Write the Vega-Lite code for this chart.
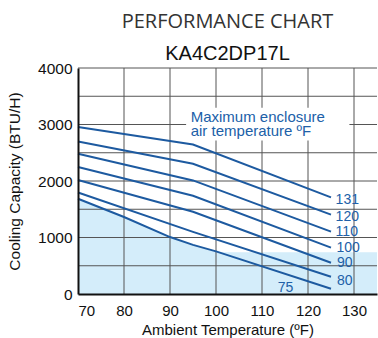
{
  "$schema": "https://vega.github.io/schema/vega-lite/v6.json",
  "width": 299,
  "height": 226,
  "autosize": {"type": "none"},
  "padding": {"left": 78, "top": 68, "right": 1, "bottom": 44},
  "background": "white",
  "config": {"view": {"stroke": null}, "font": "Liberation Sans"},
  "title": {
    "text": "PERFORMANCE CHART",
    "subtitle": "KA4C2DP17L",
    "font": "Open Sans",
    "fontSize": 20,
    "fontWeight": "normal",
    "color": "#333333",
    "subtitleFont": "Liberation Sans",
    "subtitleFontSize": 20,
    "subtitleColor": "#111111",
    "subtitlePadding": 12,
    "anchor": "middle",
    "frame": "group",
    "offset": -3
  },
  "datasets": {
    "curves": [
      {"temp": "131", "x": 70, "y": 2954}, {"temp": "131", "x": 95, "y": 2645}, {"temp": "131", "x": 125, "y": 1709},
      {"temp": "120", "x": 70, "y": 2700}, {"temp": "120", "x": 95, "y": 2305}, {"temp": "120", "x": 125, "y": 1404},
      {"temp": "110", "x": 70, "y": 2482}, {"temp": "110", "x": 95, "y": 2010}, {"temp": "110", "x": 125, "y": 1103},
      {"temp": "100", "x": 70, "y": 2247}, {"temp": "100", "x": 95, "y": 1740}, {"temp": "100", "x": 125, "y": 820},
      {"temp": "90", "x": 70, "y": 2017}, {"temp": "90", "x": 95, "y": 1455}, {"temp": "90", "x": 125, "y": 554},
      {"temp": "80", "x": 70, "y": 1797}, {"temp": "80", "x": 95, "y": 1100}, {"temp": "80", "x": 125, "y": 306},
      {"temp": "75", "x": 70, "y": 1686}, {"temp": "75", "x": 80, "y": 1362}, {"temp": "75", "x": 90, "y": 1008}, {"temp": "75", "x": 95, "y": 870}, {"temp": "75", "x": 100, "y": 754}, {"temp": "75", "x": 125, "y": 94}
    ],
    "shade": [
      {"x": 70, "y": 1686}, {"x": 80, "y": 1362}, {"x": 90, "y": 1008}, {"x": 95, "y": 870}, {"x": 100, "y": 740}, {"x": 135, "y": 740}
    ],
    "labels": [
      {"t": "131", "x": 126.0, "y": 1670},
      {"t": "120", "x": 126.0, "y": 1368},
      {"t": "110", "x": 126.0, "y": 1105},
      {"t": "100", "x": 126.2, "y": 820},
      {"t": "90", "x": 126.3, "y": 542},
      {"t": "80", "x": 126.3, "y": 223},
      {"t": "75", "x": 113.4, "y": 110}
    ],
    "note": [
      {"t": "Maximum enclosure", "x": 94.5, "y": 3036},
      {"t": "air temperature ºF", "x": 94.5, "y": 2800}
    ],
    "notebox": [{"x": 93.5, "x2": 129, "y": 2717, "y2": 3296}],
    "xgrid": [{"v": 80}, {"v": 90}, {"v": 100}, {"v": 110}, {"v": 120}, {"v": 130}],
    "ygrid": [{"v": 500}, {"v": 1000}, {"v": 1500}, {"v": 2000}, {"v": 2500}, {"v": 3000}, {"v": 3500}, {"v": 4000}]
  },
  "layer": [
    {
      "data": {"name": "shade"},
      "mark": {"type": "area", "color": "#d4edfa", "opacity": 1},
      "encoding": {
        "x": {
          "field": "x", "type": "quantitative",
          "scale": {"domain": [70, 135], "nice": false, "zero": false},
          "axis": {
            "values": [70, 80, 90, 100, 110, 120, 130],
            "grid": false, "ticks": false, "domainColor": "#111111", "domainWidth": 2,
            "labelFontSize": 15, "labelColor": "#111111", "labelPadding": 9,
            "title": "Ambient Temperature (ºF)", "titleFontSize": 15, "titleFontWeight": "normal",
            "titleColor": "#111111", "titlePadding": 4, "zindex": 2
          }
        },
        "y": {
          "field": "y", "type": "quantitative",
          "scale": {"domain": [0, 4000], "nice": false},
          "axis": {
            "values": [0, 500, 1000, 1500, 2000, 2500, 3000, 3500, 4000],
            "format": "d",
            "grid": false, "ticks": false, "domainColor": "#111111", "domainWidth": 2,
            "labelFontSize": 15.5, "labelColor": "#111111", "labelPadding": 6,
            "title": "Cooling Capacity (BTU/H)", "titleFontSize": 15.5, "titleFontWeight": "normal",
            "titleColor": "#111111", "titlePadding": 15, "zindex": 2
          }
        },
        "y2": {"datum": 0}
      }
    },
    {
      "data": {"name": "xgrid"},
      "mark": {"type": "rule", "color": "#555555", "strokeWidth": 1},
      "encoding": {"x": {"field": "v", "type": "quantitative"}}
    },
    {
      "data": {"name": "ygrid"},
      "mark": {"type": "rule", "color": "#555555", "strokeWidth": 1},
      "encoding": {"y": {"field": "v", "type": "quantitative"}}
    },
    {
      "data": {"name": "notebox"},
      "mark": {"type": "rect", "color": "white"},
      "encoding": {
        "x": {"field": "x", "type": "quantitative"},
        "x2": {"field": "x2"},
        "y": {"field": "y", "type": "quantitative"},
        "y2": {"field": "y2"}
      }
    },
    {
      "data": {"name": "curves"},
      "mark": {"type": "line", "color": "#1d5aa0", "strokeWidth": 2},
      "encoding": {
        "x": {"field": "x", "type": "quantitative"},
        "y": {"field": "y", "type": "quantitative"},
        "detail": {"field": "temp"}
      }
    },
    {
      "data": {"name": "labels"},
      "mark": {"type": "text", "align": "left", "baseline": "middle", "fontSize": 14, "color": "#2060a8", "font": "Liberation Sans"},
      "encoding": {
        "x": {"field": "x", "type": "quantitative"},
        "y": {"field": "y", "type": "quantitative"},
        "text": {"field": "t"}
      }
    },
    {
      "data": {"name": "note"},
      "mark": {"type": "text", "align": "left", "baseline": "alphabetic", "fontSize": 15, "color": "#2060a8", "font": "Liberation Sans"},
      "encoding": {
        "x": {"field": "x", "type": "quantitative"},
        "y": {"field": "y", "type": "quantitative"},
        "text": {"field": "t"}
      }
    }
  ]
}
